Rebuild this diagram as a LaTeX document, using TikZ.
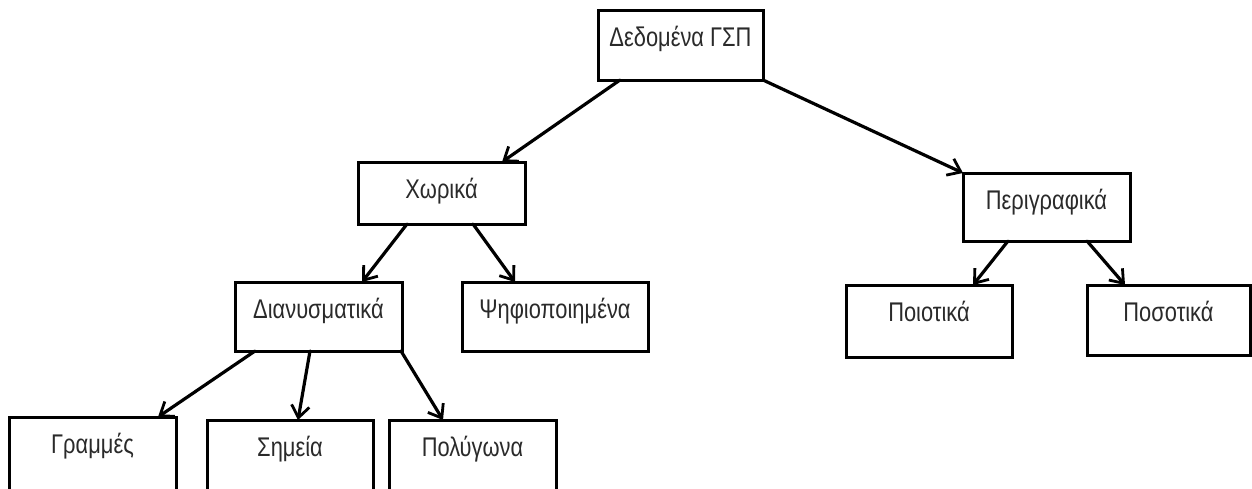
\documentclass[tikz,border=0pt]{standalone}
\usepackage{fontspec}
\setmainfont{Liberation Sans}[FakeStretch=0.81]
\usetikzlibrary{arrows.meta}
\definecolor{labelgray}{HTML}{2A2A2A}
\begin{document}
\begin{tikzpicture}[x=1pt,y=-1pt,
  box/.style={draw=black, line width=3pt, fill=white, anchor=north,
    inner xsep=0pt, inner ysep=0pt, outer sep=0pt, text height=36pt,
    font=\fontsize{27}{31}\selectfont, text=labelgray},
  link/.style={line width=3.2pt, line cap=round,
    -{Straight Barb[length=12pt,width=18pt,line width=2.8pt]}}]
\useasboundingbox (0,0) rectangle (1252,488);
\clip (0,0) rectangle (1252,488);
\fill[white] (0,0) rectangle (1252,488);

% boxes, placed by their top centre
\node[box, minimum width=165pt, text depth=34pt] (dat)  at (680.5,10)  {Δεδομένα ΓΣΠ};
\node[box, minimum width=167pt, text depth=26pt] (xor)  at (441.5,162) {Χωρικά};
\node[box, minimum width=167pt, text depth=32pt] (per)  at (1046.5,173) {Περιγραφικά};
\node[box, minimum width=167pt, text depth=33pt] (dian) at (318.5,282) {Διανυσματικά};
\node[box, minimum width=186pt, text depth=33pt] (psi)  at (555,282)   {Ψηφιοποιημένα};
\node[box, minimum width=166pt, text depth=36pt] (poio) at (929,285)   {Ποιοτικά};
\node[box, minimum width=163pt, text depth=34pt] (poso) at (1168.5,285) {Ποσοτικά};
\node[box, minimum width=167pt, text depth=44pt] (gram) at (92.5,417)  {Γραμμές};
\node[box, minimum width=166pt, text depth=44pt] (sim)  at (290,420)   {Σημεία};
\node[box, minimum width=167pt, text depth=44pt] (pol)  at (472.5,420) {Πολύγωνα};

% connectors
\draw[link] ([xshift=22pt]dat.south west)  -- ([xshift=-23pt]xor.north east);
\draw[link] (dat.south east)               -- (per.north west);
\draw[link] ([xshift=49pt]xor.south west)  -- ([xshift=127pt]dian.north west);
\draw[link] ([xshift=115pt]xor.south west) -- ([xshift=53pt]psi.north west);
\draw[link] ([xshift=45pt]per.south west)  -- ([xshift=127pt]poio.north west);
\draw[link] ([xshift=124pt]per.south west) -- ([xshift=38pt]poso.north west);
\draw[link] ([xshift=20pt]dian.south west) -- ([xshift=149pt]gram.north west);
\draw[link] ([xshift=75pt]dian.south west) -- ([xshift=91pt]sim.north west);
\draw[link] ([xshift=166pt]dian.south west) -- ([xshift=54pt]pol.north west);
\end{tikzpicture}
\end{document}
